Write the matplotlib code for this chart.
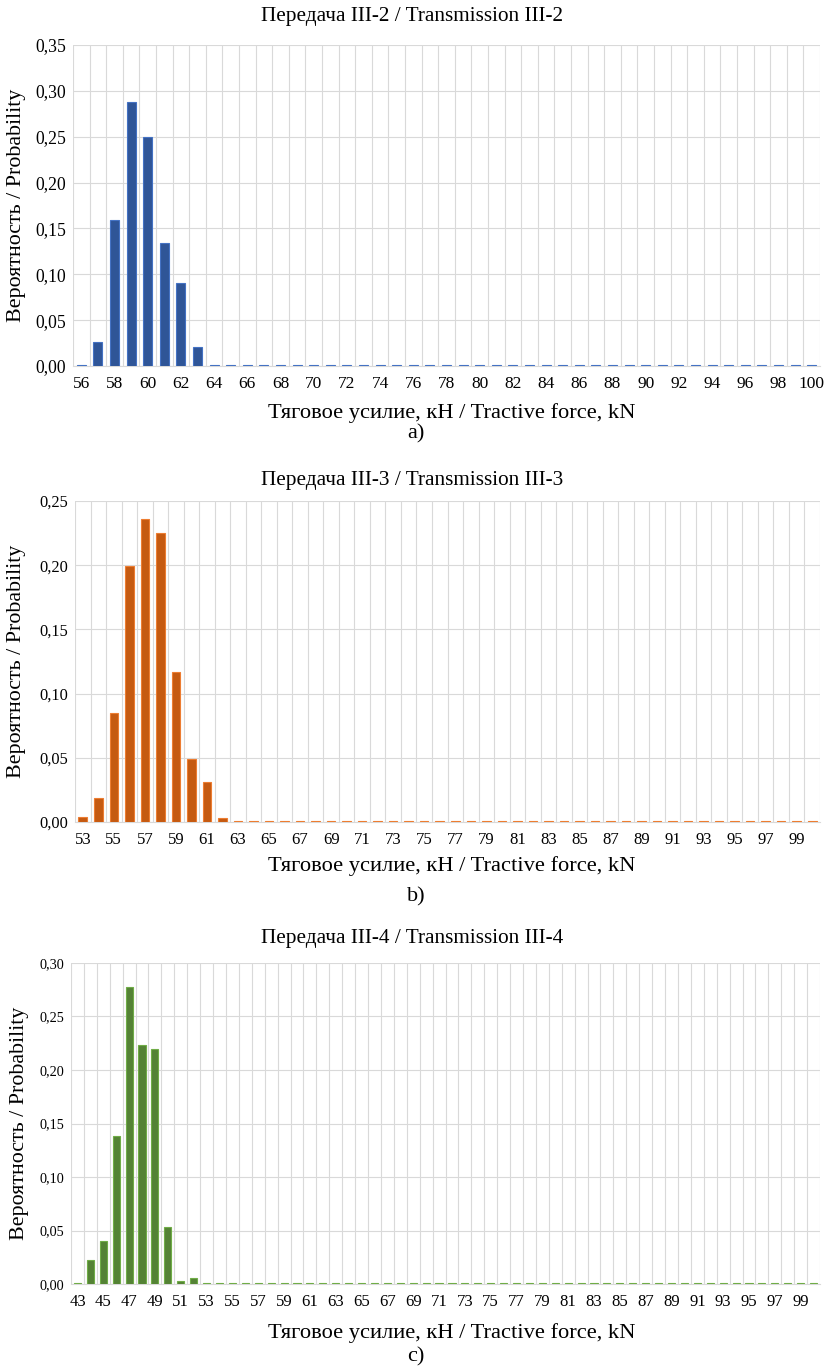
import numpy as np
import matplotlib
matplotlib.use('Agg')
import matplotlib.pyplot as plt
from matplotlib.ticker import MultipleLocator, FuncFormatter

plt.rcParams['font.family'] = ['Liberation Serif', 'DejaVu Serif']

# III-2
force_a = list(range(56, 101))
prob_a = [0.001, 0.026, 0.159, 0.288, 0.250, 0.134, 0.090, 0.021] + [0.001] * 37
# III-3
force_b = list(range(53, 101))
prob_b = [0.004, 0.019, 0.085, 0.199, 0.236, 0.225, 0.117, 0.049, 0.031, 0.0034] + [0.0006] * 38
# III-4
force_c = list(range(43, 101))
prob_c = [0.001, 0.022, 0.0405, 0.138, 0.2776, 0.2237, 0.220, 0.053, 0.003, 0.0056] + [0.0006] * 48

W, H = 824, 1369
# title, x, y, bar colour, edge colour, ymax, tag
panels = [
    ('Передача III-2 / Transmission III-2', force_a, prob_a, '#2F5597', '#4472C4', 0.35, 'a)'),
    ('Передача III-3 / Transmission III-3', force_b, prob_b, '#C55A11', '#ED7D31', 0.25, 'b)'),
    ('Передача III-4 / Transmission III-4', force_c, prob_c, '#548235', '#70AD47', 0.30, 'c)'),
]
# layout in pixels: left, top, title y, xlabel y, tag y, ylabel x, ytick size, xtick size
layout = [
    (73, 45, 17, 413, 434, 17, 12.7, 12.5),
    (75, 501, 480, 866, 897, 17, 11.8, 12),
    (71, 963, 938, 1333, 1357, 20, 10.3, 12),
]

fig = plt.figure(figsize=(W / 100, H / 100), dpi=100)

def fy(p):
    return 1 - p / H

for (title, xs, ys, col, edge, ymax, tag), (left, top, ty, ly, gy, yx, yfs, xfs) in zip(panels, layout):
    ax = fig.add_axes([left / W, 1 - (top + 321) / H, (820 - left) / W, 321 / H])
    n = len(xs)
    idx = np.arange(n)
    ax.bar(idx, ys, width=0.55, color=col, edgecolor=edge, linewidth=0.8, zorder=3)
    ax.set_xlim(-0.5, n - 0.5)
    ax.set_ylim(0, ymax)
    ax.yaxis.set_major_locator(MultipleLocator(0.05))
    ax.yaxis.set_major_formatter(FuncFormatter(lambda v, p: ('%.2f' % v).replace('.', ',')))
    step_ticks = idx[::2]
    ax.set_xticks(step_ticks)
    ax.set_xticklabels([str(xs[i]) for i in step_ticks], fontsize=xfs)
    ax.set_xticks(np.arange(-0.5, n, 1), minor=True)
    ax.grid(True, which='minor', axis='x', color='#d9d9d9', lw=0.8, zorder=0)
    ax.grid(True, which='major', axis='y', color='#d9d9d9', lw=0.8, zorder=0)
    ax.tick_params(axis='both', which='both', length=0)
    ax.tick_params(axis='y', labelsize=yfs, pad=5)
    ax.tick_params(axis='x', pad=7)
    for s in ['top', 'right', 'left']:
        ax.spines[s].set_visible(False)
    ax.spines['bottom'].set_color('#d9d9d9')
    fig.text(412 / W, fy(ty), title, ha='center', va='center', fontsize=15.3)
    fig.text(452 / W, fy(ly), 'Тяговое усилие, кН / Tractive force, kN', ha='center', va='center', fontsize=16.2)
    fig.text(416 / W, fy(gy), tag, ha='center', va='center', fontsize=16)
    fig.text(yx / W, fy(top + 160), 'Вероятность / Probability', ha='center', va='center',
             rotation=90, fontsize=15.8)

fig.savefig('out.png', dpi=100)
